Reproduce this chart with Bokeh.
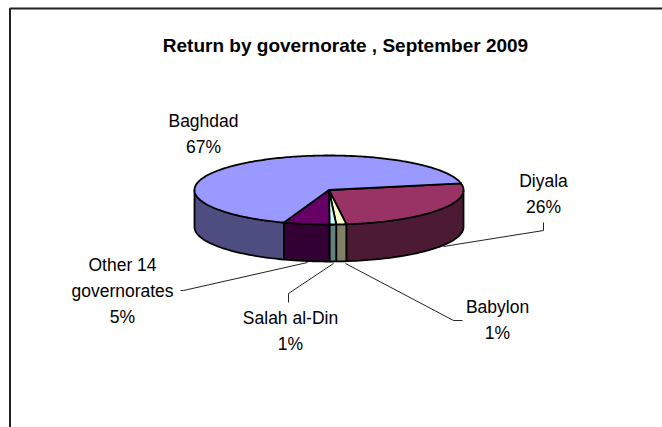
import numpy as np
from bokeh.plotting import figure
from bokeh.models import Range1d
from bokeh.core.properties import value
from bokeh.embed import file_html
from bokeh.resources import INLINE

title = "Return by governorate , September 2009"
categories = ["Diyala", "Babylon", "Salah al-Din", "Other 14 governorates", "Baghdad"]
shares = [26.0, 1.2, 0.8, 5.49, 66.51]
top_colors = ["#993366", "#FFFFCC", "#CCFFFF", "#660066", "#9999FF"]
side_colors = ["#4D1A33", "#808066", "#668080", "#330033", "#4D4D80"]

label_lines = [["Baghdad", "67%"], ["Diyala", "26%"], ["Babylon", "1%"],
               ["Salah al-Din", "1%"], ["Other 14", "governorates", "5%"]]
label_x = [203, 543, 497, 290, 122]
label_y = [120, 180, 306, 317, 264]
line_step = 26

leaders_x = [[543, 543, 443], [345, 453, 462], [333, 288, 288], [307, 183, 180]]
leaders_y = [[222, 230, 246], [263, 320, 320], [263, 293, 302], [262, 290, 290]]

CX, CY, RX, RY, DEPTH = 328.5, 189.5, 134.5, 34.5, 37
START_DEG = 11

W, H = 662, 427
p = figure(width=W, height=H, x_range=Range1d(0, W), y_range=Range1d(H, 0),
           toolbar_location=None, output_backend="svg", min_border=0)
p.axis.visible = False
p.grid.visible = False
p.outline_line_color = None
p.background_fill_color = "white"

p.line([9.5, 9.5, 662], [427, 8, 8], line_color="#222222", line_width=2)


def ell(t):
    return CX + RX * np.cos(t), CY - RY * np.sin(t)


edges = np.radians(START_DEG - np.concatenate([[0], np.cumsum(shares)]) * 3.6)
pairs = list(zip(edges[:-1], edges[1:]))

# front wall: the lower half of the ellipse only
for (a, b), c in zip(pairs, side_colors):
    lo, hi = max(b, -np.pi), min(a, 0.0)
    if lo >= hi:
        continue
    t = np.linspace(hi, lo, 60)
    x, y = ell(t)
    xs = np.concatenate([x, x[::-1]])
    ys = np.concatenate([y, y[::-1] + DEPTH])
    p.patch(xs, ys, fill_color=c, line_color="black", line_width=1.8)

# top face
for (a, b), c in zip(pairs, top_colors):
    t = np.linspace(a, b, max(8, int(abs(a - b) * 60)))
    x, y = ell(t)
    p.patch(np.r_[CX, x], np.r_[CY, y], fill_color=c, line_color="black", line_width=1.8)

for lx, ly in zip(leaders_x, leaders_y):
    p.line(lx, ly, line_color="#222222", line_width=1)

for lines, x, y in zip(label_lines, label_x, label_y):
    for i, s in enumerate(lines):
        p.text([x], [y + i * line_step], text=[s], text_font=value("Liberation Sans"),
               text_font_size="17.5px", text_color="black",
               text_align="center", text_baseline="middle")

p.text([345], [45], text=[title], text_font=value("Liberation Sans"), text_font_style="bold",
       text_font_size="19px", text_color="black", text_align="center", text_baseline="middle")

open("out.html", "w").write(file_html(p, INLINE))
